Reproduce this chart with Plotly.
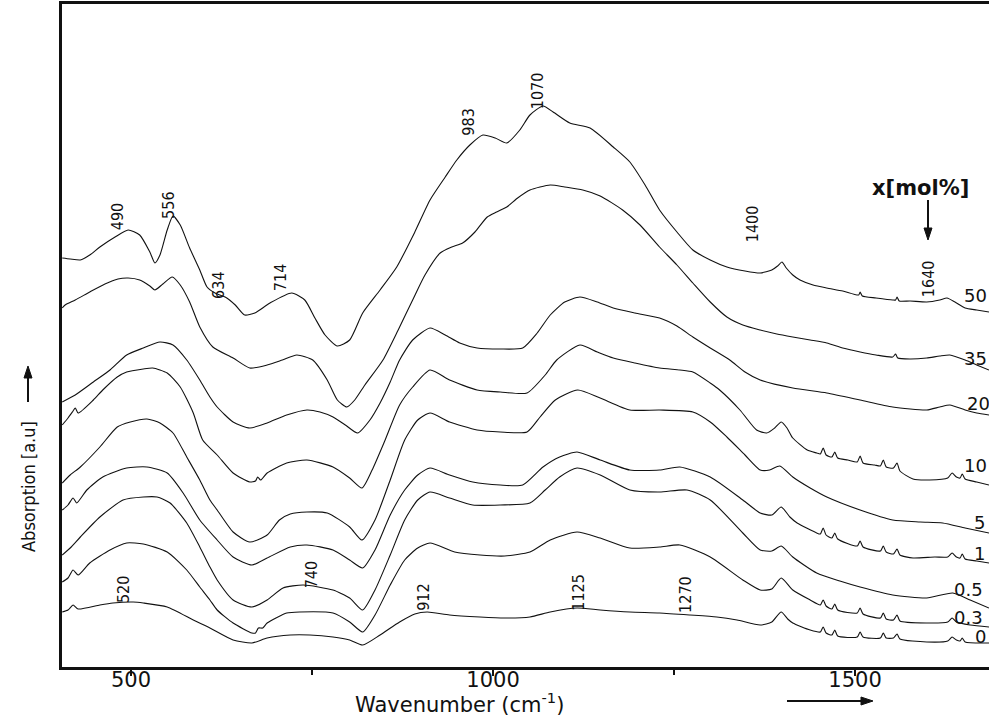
import plotly.graph_objects as go

# ---------------------------------------------------------------------------
# IR absorption spectra, offset for clarity; one curve per concentration x[mol%]
# wavenumber in cm^-1, absorption in arbitrary (stacked) units
# ---------------------------------------------------------------------------
concentrations = ["50", "35", "20", "10", "5", "1", "0.5", "0.3", "0"]

wn_50 = [405, 416, 430, 443, 457, 478, 496, 512, 526, 533, 540, 550, 558, 568, 581, 595, 605, 616, 630, 644,
         657, 671, 692, 722, 740, 754, 768, 785, 802, 820, 844, 867, 892, 913, 934, 950, 968, 986, 1003, 1019,
         1037, 1051, 1069, 1083, 1106, 1134, 1166, 1189, 1210, 1230, 1254, 1276, 1300, 1323, 1348, 1369, 1385,
         1393, 1399, 1405, 1414, 1424, 1442, 1461, 1483, 1505, 1507, 1510, 1529, 1552, 1556, 1558, 1561, 1576,
         1599, 1617, 1627, 1638, 1652, 1668, 1685]
ab_50 = [409, 408, 407, 412, 420, 430, 437, 432, 415, 404, 412, 437, 451, 442, 419, 397, 380, 374, 370, 362,
         352, 354, 364, 374, 367, 349, 332, 321, 327, 354, 377, 400, 435, 467, 490, 507, 522, 532, 529, 524,
         537, 552, 561, 555, 544, 539, 520, 505, 482, 457, 435, 417, 407, 400, 396, 394, 397,
         401, 405, 399, 392, 387, 382, 379, 376, 372, 375, 371, 369, 367, 367, 370, 366, 366,
         365, 367, 369, 365, 359, 357, 355]

wn_35 = [405, 409, 423, 443, 464, 482, 496, 512, 526, 533, 544, 557, 568, 581, 595, 613, 641, 664, 688, 709,
         729, 751, 771, 785, 798, 809, 823, 848, 869, 889, 906, 927, 943, 958, 975, 992, 1005, 1019, 1034, 1051,
         1079, 1099, 1124, 1148, 1179, 1203, 1230, 1254, 1276, 1300, 1323, 1345, 1369, 1392, 1414, 1438, 1461,
         1483, 1507, 1529, 1552, 1556, 1559, 1576, 1599, 1617, 1631, 1652, 1668, 1685]
ab_35 = [359, 362, 367, 375, 383, 388, 389, 387, 381, 377, 383, 390, 382, 365, 340, 320, 309, 299, 302, 307,
         312, 307, 287, 267, 260, 267, 282, 307, 337, 367, 392, 414, 420, 424, 435, 450, 455, 460, 469, 477,
         482, 480, 477, 471, 457, 442, 420, 402, 384, 365, 350, 342, 337, 333, 330, 327, 324,
         319, 315, 312, 310, 313, 309, 308, 309, 311, 312, 307, 302, 297]

wn_20 = [405, 423, 448, 471, 494, 517, 540, 558, 577, 595, 609, 619, 641, 664, 688, 715, 743, 761, 779, 796,
         813, 830, 844, 858, 871, 889, 913, 934, 954, 978, 1010, 1041, 1061, 1079, 1099, 1120, 1144, 1166, 1196,
         1230, 1254, 1276, 1300, 1327, 1348, 1369, 1414, 1461, 1507, 1552, 1599, 1617, 1631, 1652, 1668, 1685]
ab_20 = [265, 272, 285, 297, 312, 319, 325, 322, 307, 287, 270, 260, 245, 239, 244, 252, 257, 255, 250, 242,
         234, 247, 264, 285, 307, 327, 339, 332, 324, 319, 318, 319, 334, 352, 365, 370, 365, 359, 354,
         349, 341, 330, 319, 307, 295, 287, 279, 274, 267, 260, 257, 260, 262, 257, 254, 252]

wn_10 = [405, 413, 420, 423, 427, 448, 461, 481, 494, 517, 530, 550, 568, 586, 599, 619, 641, 664, 672, 675,
         679, 688, 715, 743, 779, 802, 819, 833, 851, 871, 889, 913, 940, 978, 1010, 1047, 1072, 1088, 1120,
         1144, 1166, 1196, 1230, 1258, 1276, 1300, 1313, 1341, 1364, 1378, 1389, 1398, 1406, 1414, 1434, 1447,
         1452, 1456, 1460, 1468, 1472, 1476, 1490, 1503, 1507, 1511, 1527, 1535, 1539, 1543, 1553, 1558, 1562,
         1580, 1603, 1628, 1634, 1640, 1645, 1648, 1652, 1668, 1685]
ab_10 = [242, 249, 256, 259, 254, 267, 277, 290, 295, 298, 299, 294, 280, 254, 227, 212, 194, 185, 186, 190,
         187, 194, 204, 207, 200, 189, 179, 197, 227, 262, 280, 297, 287, 277, 275, 274, 292, 307, 322,
         315, 309, 304, 299, 297, 295, 284, 277, 257, 237, 234, 239, 245, 239, 229, 217, 214,
         213, 219, 212, 210, 215, 209, 207, 205, 211, 204, 202, 201, 207, 200, 199, 204, 196,
         188, 187, 189, 194, 190, 189, 193, 188, 185, 182]

wn_5 = [405, 416, 430, 457, 481, 499, 522, 540, 558, 577, 595, 609, 619, 641, 664, 688, 705, 720, 743, 771,
        802, 819, 837, 858, 878, 896, 913, 940, 978, 1010, 1047, 1065, 1086, 1117, 1148, 1189, 1230, 1276, 1300,
        1323, 1348, 1369, 1382, 1396, 1414, 1438, 1461, 1507, 1552, 1590, 1621, 1652, 1685]
ab_5 = [184, 192, 200, 220, 240, 245, 248, 244, 234, 210, 187, 167, 157, 135, 125, 132, 147, 153, 155, 154,
        140, 127, 147, 187, 227, 247, 254, 245, 237, 235, 235, 250, 267, 277, 269, 257, 257, 255, 245,
        230, 212, 197, 197, 201, 190, 179, 170, 157, 147, 145, 144, 139, 134]

wn_1 = [405, 413, 420, 425, 439, 461, 494, 522, 550, 572, 595, 619, 641, 667, 688, 720, 743, 779, 802, 820,
        837, 858, 878, 896, 913, 940, 972, 1010, 1041, 1069, 1092, 1116, 1148, 1189, 1230, 1258, 1300, 1345,
        1369, 1385, 1398, 1410, 1420, 1447, 1452, 1456, 1460, 1468, 1472, 1476, 1503, 1507, 1511, 1535, 1539,
        1543, 1553, 1558, 1562, 1580, 1610, 1628, 1634, 1640, 1645, 1648, 1652, 1668, 1685]
ab_1 = [157, 162, 169, 164, 177, 190, 199, 200, 194, 174, 147, 127, 110, 102, 109, 120, 122, 117, 107, 99,
        117, 152, 177, 192, 199, 192, 185, 182, 182, 200, 210, 215, 207, 197, 197, 200, 190, 167,
        154, 152, 160, 150, 144, 134, 133, 139, 132, 129, 134, 128, 121, 126, 120, 116, 121,
        115, 113, 118, 112, 109, 110, 110, 114, 110, 109, 113, 108, 106, 104]

wn_05 = [405, 416, 430, 457, 489, 517, 536, 554, 577, 595, 609, 619, 641, 667, 688, 710, 738, 779, 802, 820,
         837, 858, 878, 896, 913, 940, 972, 1010, 1051, 1072, 1092, 1116, 1148, 1189, 1230, 1268, 1300, 1345,
         1369, 1385, 1398, 1414, 1447, 1479, 1507, 1552, 1599, 1635, 1659, 1685]
ab_05 = [112, 119, 130, 150, 167, 170, 170, 164, 144, 120, 100, 87, 67, 60, 67, 79, 82, 77, 69, 57,
         77, 112, 147, 167, 175, 169, 162, 162, 164, 177, 190, 199, 192, 177, 175, 177, 167, 134,
         117, 116, 121, 110, 94, 86, 80, 72, 69, 74, 67, 59]

wn_03 = [405, 413, 420, 427, 443, 471, 494, 517, 550, 577, 595, 609, 619, 641, 667, 672, 676, 682, 688, 715,
         733, 779, 802, 820, 837, 858, 878, 896, 913, 947, 982, 1016, 1051, 1079, 1116, 1148, 1189, 1230, 1258,
         1300, 1345, 1369, 1385, 1398, 1414, 1438, 1452, 1456, 1460, 1468, 1472, 1476, 1503, 1507, 1511, 1535,
         1539, 1543, 1553, 1558, 1562, 1599, 1628, 1634, 1640, 1659, 1685]
ab_03 = [85, 89, 97, 92, 104, 117, 124, 123, 115, 97, 80, 67, 57, 44, 34, 34, 39, 39, 44, 54,
         55, 54, 45, 35, 52, 82, 107, 119, 124, 115, 112, 111, 115, 127, 135, 129, 119, 120, 122,
         110, 87, 77, 78, 89, 77, 67, 62, 67, 61, 58, 63, 57, 54, 59, 53, 49,
         54, 48, 47, 52, 46, 44, 45, 49, 45, 42, 40]

wn_0 = [405, 413, 420, 427, 457, 475, 503, 517, 550, 586, 609, 641, 667, 688, 720, 747, 779, 802, 820, 844,
        871, 892, 909, 940, 982, 1016, 1051, 1079, 1116, 1148, 1189, 1230, 1272, 1309, 1337, 1369, 1385, 1398,
        1407, 1414, 1438, 1452, 1456, 1460, 1468, 1472, 1476, 1503, 1507, 1511, 1535, 1539, 1543, 1553, 1558,
        1562, 1599, 1628, 1634, 1640, 1645, 1648, 1652, 1685]
ab_0 = [55, 57, 62, 58, 62, 64, 65, 64, 60, 47, 39, 27, 24, 29, 32, 32, 30, 27, 22, 32,
        45, 53, 55, 52, 50, 49, 50, 55, 59, 57, 55, 54, 52, 50, 47, 42, 45, 55,
        48, 44, 37, 35, 40, 34, 32, 37, 31, 30, 35, 30, 29, 34, 29, 29, 33,
        28, 25, 26, 30, 27, 26, 29, 25, 24]

spectra_wn = [wn_50, wn_35, wn_20, wn_10, wn_5, wn_1, wn_05, wn_03, wn_0]
spectra_ab = [ab_50, ab_35, ab_20, ab_10, ab_5, ab_1, ab_05, ab_03, ab_0]

# axis ticks
major_ticks = [500, 1000, 1500]
minor_ticks = [750, 1250]

# band assignments written next to the curves: (text, wavenumber, absorption)
band_labels = [
    ("490", 481, 450), ("556", 551, 462), ("634", 620, 382), ("714", 706, 389),
    ("983", 965, 545), ("1070", 1061, 576), ("1400", 1358, 443), ("1640", 1601, 388),
    ("520", 489, 77), ("740", 749, 92), ("912", 903, 70), ("1125", 1117, 75), ("1270", 1265, 73),
]

# concentration tags at the right end of each curve: (wavenumber, absorption)
conc_pos = [(1648, 372), (1648, 309), (1652, 264), (1648, 202), (1661, 145),
            (1661, 114), (1634, 78), (1634, 50), (1663, 31)]

NARROW = "Liberation Sans Narrow, DejaVu Sans Condensed, Arial Narrow, sans-serif"
WIDE = "DejaVu Sans, Verdana, sans-serif"
INK = "#111111"

fig = go.Figure()
for name, xs, ys in zip(concentrations, spectra_wn, spectra_ab):
    fig.add_trace(go.Scatter(
        x=xs, y=ys, mode="lines", name=name,
        line=dict(color=INK, width=1.1, shape="spline", smoothing=0.6),
        showlegend=False, hoverinfo="skip",
    ))

annotations = []
for text, wx, ay in band_labels:
    annotations.append(dict(
        x=wx, y=ay, xref="x", yref="y", text=text, showarrow=False, textangle=-90,
        font=dict(family=NARROW, size=16, color=INK),
        xanchor="center", yanchor="middle",
    ))

for text, (wx, ay) in zip(concentrations, conc_pos):
    annotations.append(dict(
        x=wx, y=ay, xref="x", yref="y", text=text, showarrow=False,
        font=dict(family=WIDE, size=18, color=INK),
        xanchor="left", yanchor="middle",
    ))

# legend heading
annotations.append(dict(
    x=0.9256, y=0.7225, xref="paper", yref="paper", text="<b>x[mol%]</b>", showarrow=False,
    font=dict(family=WIDE, size=21, color=INK), xanchor="center", yanchor="middle",
))

# axis titles
annotations.append(dict(
    x=0.4293, y=-0.054, xref="paper", yref="paper",
    text="Wavenumber (cm<sup>-1</sup>)", showarrow=False,
    font=dict(family=WIDE, size=21, color=INK), xanchor="center", yanchor="middle",
))
annotations.append(dict(
    x=-0.0367, y=0.273, xref="paper", yref="paper", text="Absorption [a.u]", showarrow=False,
    textangle=-90, font=dict(family=NARROW, size=18, color=INK),
    xanchor="center", yanchor="middle",
))

# arrows: shaft + filled head, in paper coordinates
def arrow(x0, y0, x1, y1, head):
    return [
        dict(type="line", xref="paper", yref="paper", x0=x0, y0=y0, x1=x1, y1=y1,
             line=dict(color=INK, width=2)),
        dict(type="path", xref="paper", yref="paper", path=head,
             fillcolor=INK, line=dict(color=INK, width=1)),
    ]

shapes = []
# upward arrow beside the absorption title
shapes += arrow(-0.03668, 0.3997, -0.03668, 0.4359,
                "M -0.04099,0.4359 L -0.03236,0.4359 L -0.03668,0.4540 Z")
# downward arrow under the legend heading
shapes += arrow(0.93420, 0.70437, 0.93420, 0.66214,
                "M 0.92989,0.66214 L 0.93851,0.66214 L 0.93420,0.64404 Z")
# rightward arrow beside the wavenumber axis
shapes += arrow(0.78209, -0.05128, 0.86192, -0.05128,
                "M 0.86192,-0.04525 L 0.86192,-0.05732 L 0.87487,-0.05128 Z")

fig.update_layout(
    width=989, height=717,
    margin=dict(l=62, r=0, t=4, b=50),
    paper_bgcolor="white", plot_bgcolor="white",
    annotations=annotations,
    shapes=shapes,
    xaxis=dict(
        range=[404.7, 1685], showgrid=False, zeroline=False,
        showline=True, linecolor=INK, linewidth=2.5, mirror=True,
        ticks="outside", ticklen=6, tickwidth=2, tickcolor=INK,
        tickmode="array", tickvals=major_ticks,
        minor=dict(tickmode="array", tickvals=minor_ticks, ticks="outside",
                   ticklen=5, tickwidth=2, tickcolor=INK, showgrid=False),
        tickfont=dict(family=WIDE, size=21, color=INK),
        ticklabelstandoff=-14,
    ),
    yaxis=dict(
        range=[0, 663], showgrid=False, zeroline=False,
        showline=True, linecolor=INK, linewidth=3, mirror=False,
        ticks="", showticklabels=False,
    ),
)

fig.write_html("out.html")
